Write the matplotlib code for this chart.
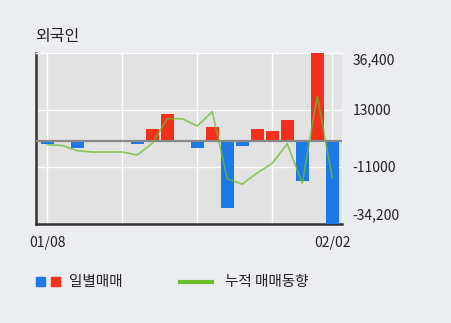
import matplotlib.pyplot as plt
from matplotlib.patches import Rectangle
from matplotlib.lines import Line2D
import numpy as np

plt.rcParams['font.family'] = ['Noto Sans CJK KR', 'DejaVu Sans']

dates = ['01/08', '01/09', '01/10', '01/11', '01/12', '01/15', '01/16', '01/17',
         '01/18', '01/19', '01/22', '01/23', '01/24', '01/25', '01/26', '01/29',
         '01/30', '01/31', '02/01', '02/02']
daily = [-1500, 0, -2900, 0, 0, 0, -1300, 5000, 11200, 0,
         -2900, 5700, -28000, -2200, 4900, 4000, 8800, -16800, 38000, -36000]
cumul = [-1700, -2000, -4200, -4750, -4750, -4750, -6000, -1100, 9200, 9200,
         6150, 12150, -15900, -18200, -13500, -9500, -1300, -17900, 18700, -15500]
ytick_vals = [36400, 13000, -11000, -34200]
ytick_labels = ['36,400', '13000', '-11000', '-34,200']

bg = '#ecedf1'
red = '#f3301b'
blue = '#1b79e8'
green = '#6cbc2c'

fig = plt.figure(figsize=(4.51, 3.23), dpi=100, facecolor=bg)
ax = fig.add_axes([35.7 / 451, 99 / 323, 306 / 451, 170.7 / 323])
ax.set_facecolor('#e2e2e2')

x = np.arange(len(dates))
colors = [red if v > 0 else blue for v in daily]
ax.bar(x, daily, width=0.87, color=colors, zorder=3)
ax.plot(x, cumul, color=green, lw=1.2, alpha=0.75, zorder=4)
ax.axhline(0, color='#888888', lw=1.6, zorder=3.5)

ax.set_xlim(-0.77, 19.63)
ax.set_ylim(-34900, 36600)

# grid
for gx in [0, 5, 10, 15, 19]:
    ax.axvline(gx, color='white', lw=1.0, zorder=1)
for gy in [13000, -11000]:
    ax.axhline(gy, color='white', lw=1.0, zorder=1)

ax.set_xticks([0, 19])
ax.set_xticklabels([dates[0], dates[-1]])
ax.set_yticks(ytick_vals)
ax.set_yticklabels(ytick_labels)
ax.yaxis.tick_right()
ax.tick_params(axis='both', length=0, labelsize=10, labelcolor='#222222')
ax.tick_params(axis='y', pad=8)
ax.tick_params(axis='x', pad=9)
tl = ax.get_yticklabels()
tl[0].set_verticalalignment('top')
tl[-1].set_verticalalignment('bottom')

ax.spines['right'].set_visible(False)
ax.spines['top'].set_color('white')
ax.spines['top'].set_linewidth(1.0)
ax.spines['left'].set_color('#333333')
ax.spines['left'].set_linewidth(1.8)
ax.spines['bottom'].set_color('#333333')
ax.spines['bottom'].set_linewidth(1.8)

fig.text(35 / 451, 1 - 37 / 323, '외국인', fontsize=11.5, va='center', ha='left', color='#222222')

# legend
fig.patches.append(Rectangle((36 / 451, 1 - 286 / 323), 9 / 451, 9 / 323,
                             transform=fig.transFigure, color=blue))
fig.patches.append(Rectangle((51 / 451, 1 - 286 / 323), 9 / 451, 9 / 323,
                             transform=fig.transFigure, color=red))
fig.text(69 / 451, 1 - 282 / 323, '일별매매', fontsize=10.5, va='center', ha='left', color='#222222')
fig.lines.append(Line2D([180 / 451, 212 / 451], [1 - 282 / 323, 1 - 282 / 323],
                        transform=fig.transFigure, color=green, lw=3))
fig.text(225 / 451, 1 - 282 / 323, '누적 매매동향', fontsize=10.5, va='center', ha='left', color='#222222')

fig.savefig('out.png', dpi=100, facecolor=bg)
